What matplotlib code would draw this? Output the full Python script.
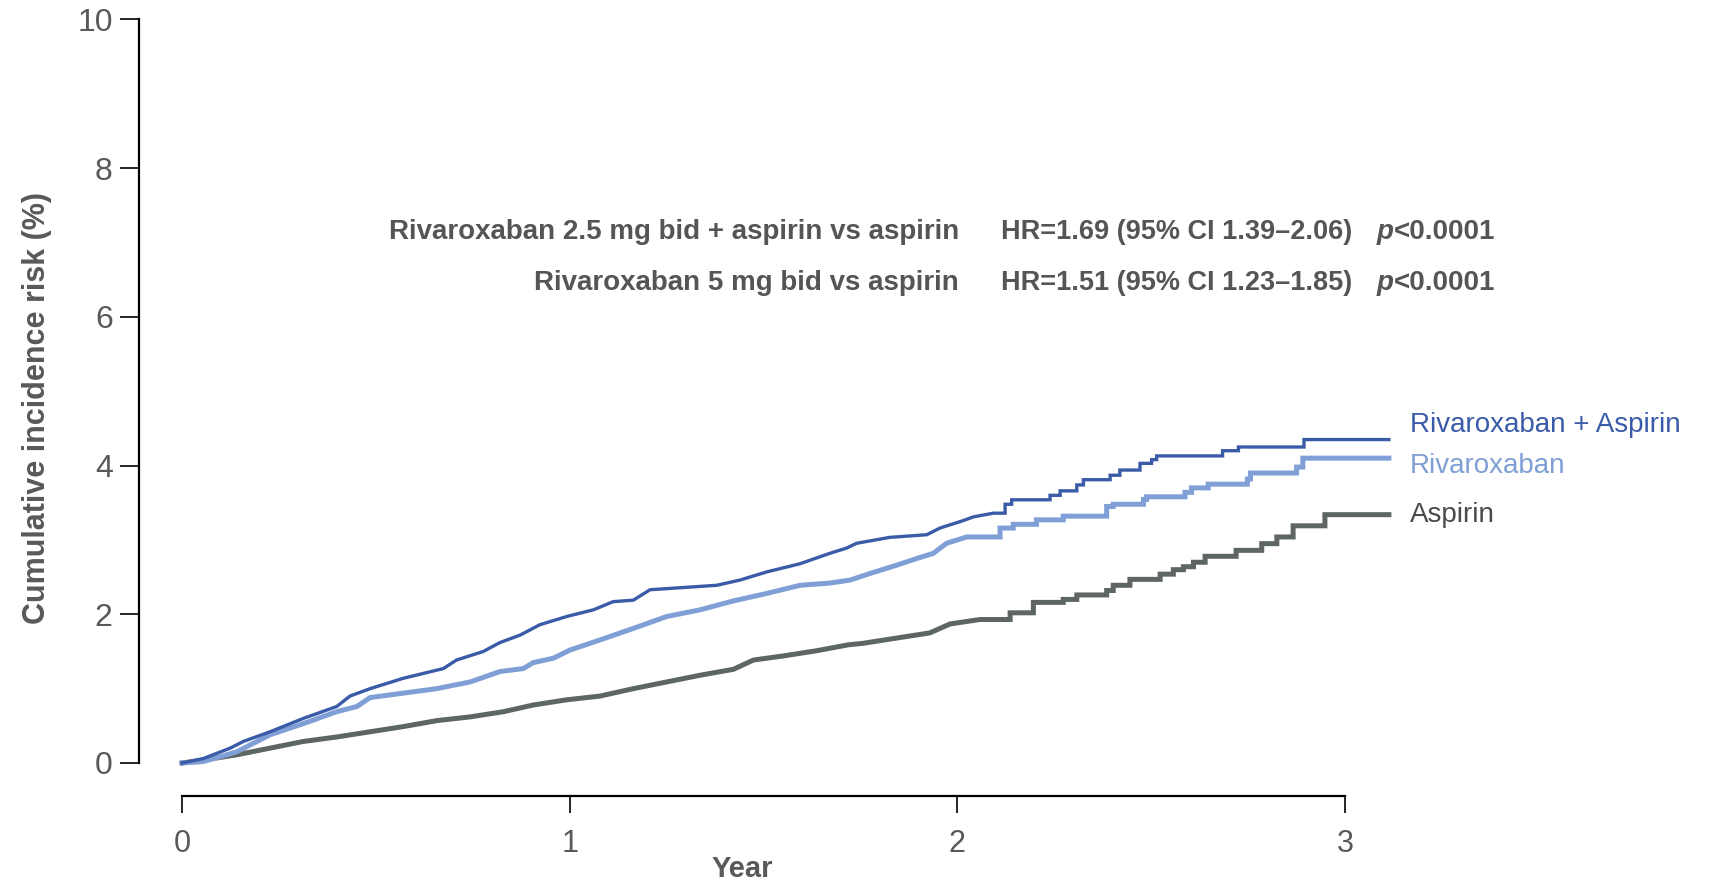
import matplotlib
matplotlib.use("Agg")
import matplotlib.pyplot as plt
from matplotlib import font_manager

# values (years, cumulative incidence %)
rivasp_t = [0, 0.055, 0.124, 0.158, 0.227, 0.313, 0.399, 0.433, 0.485, 0.571,
            0.674, 0.708, 0.777, 0.820, 0.872, 0.923, 0.992, 1.061, 1.112, 1.164,
            1.207, 1.293, 1.379, 1.439, 1.508, 1.594, 1.671, 1.714, 1.740, 1.826,
            1.921, 1.955, 2.015, 2.041, 2.093, 2.123, 2.140, 2.239, 2.265, 2.308,
            2.325, 2.394, 2.419, 2.471, 2.501, 2.514, 2.684, 2.725, 2.894, 3.113]
rivasp_v = [0, 0.06, 0.20, 0.29, 0.42, 0.60, 0.76, 0.90, 1.00, 1.14,
            1.27, 1.385, 1.50, 1.62, 1.72, 1.86, 1.97, 2.06, 2.17, 2.19,
            2.33, 2.36, 2.39, 2.46, 2.57, 2.68, 2.82, 2.89, 2.955, 3.035,
            3.07, 3.16, 3.26, 3.31, 3.36, 3.48, 3.54, 3.60, 3.66, 3.74,
            3.81, 3.87, 3.94, 4.03, 4.08, 4.13, 4.20, 4.25, 4.35, 4.35]

riva_t = [0, 0.055, 0.141, 0.227, 0.313, 0.399, 0.451, 0.485, 0.571, 0.657,
          0.743, 0.820, 0.880, 0.906, 0.958, 1.001, 1.078, 1.164, 1.250, 1.336,
          1.422, 1.508, 1.594, 1.671, 1.723, 1.775, 1.843, 1.895, 1.938, 1.972,
          2.024, 2.110, 2.144, 2.204, 2.273, 2.385, 2.402, 2.480, 2.488, 2.587,
          2.604, 2.647, 2.748, 2.756, 2.875, 2.891, 3.113]
riva_v = [0, 0.02, 0.15, 0.38, 0.53, 0.69, 0.76, 0.88, 0.94, 1.00,
          1.09, 1.23, 1.27, 1.35, 1.41, 1.52, 1.655, 1.81, 1.97, 2.06,
          2.18, 2.28, 2.39, 2.42, 2.46, 2.55, 2.66, 2.75, 2.82, 2.955,
          3.04, 3.16, 3.21, 3.27, 3.32, 3.45, 3.48, 3.545, 3.58, 3.64,
          3.70, 3.75, 3.82, 3.90, 3.98, 4.10, 4.10]

asp_t = [0, 0.055, 0.141, 0.227, 0.313, 0.399, 0.485, 0.571, 0.657, 0.743,
         0.829, 0.906, 0.992, 1.078, 1.164, 1.250, 1.336, 1.422, 1.474, 1.551,
         1.637, 1.719, 1.757, 1.843, 1.929, 1.981, 2.058, 2.136, 2.196, 2.273,
         2.308, 2.385, 2.402, 2.445, 2.523, 2.557, 2.583, 2.609, 2.639, 2.719,
         2.785, 2.824, 2.866, 2.948, 3.113]
asp_v = [0, 0.04, 0.11, 0.20, 0.29, 0.35, 0.42, 0.49, 0.57, 0.62,
         0.69, 0.78, 0.85, 0.90, 1.00, 1.09, 1.18, 1.26, 1.385, 1.44,
         1.51, 1.59, 1.61, 1.68, 1.75, 1.87, 1.93, 2.02, 2.16, 2.20,
         2.26, 2.32, 2.39, 2.47, 2.54, 2.60, 2.64, 2.70, 2.78, 2.86,
         2.95, 3.04, 3.19, 3.34, 3.34]

series_names = ["Rivaroxaban + Aspirin", "Rivaroxaban", "Aspirin"]
label_y = [4.55, 3.99, 3.33]

comparisons = ["Rivaroxaban 2.5 mg bid + aspirin vs aspirin",
               "Rivaroxaban 5 mg bid vs aspirin"]
hr_texts = ["HR=1.69 (95% CI 1.39\u20132.06)",
            "HR=1.51 (95% CI 1.23\u20131.85)"]
p_texts = ["<0.0001", "<0.0001"]

x_ticks = [0, 1, 2, 3]
y_ticks = [0, 2, 4, 6, 8, 10]

# before this year the readings are samples along a dense staircase (drawn as a
# line); after it they are the visible individual steps
STEP_FROM = 2.1


def km_path(t, v):
    xs, ys = [], []
    for i in range(len(t)):
        if i > 0 and t[i] >= STEP_FROM:
            xs.append(t[i])
            ys.append(v[i - 1])
        xs.append(t[i])
        ys.append(v[i])
    return xs, ys


# narrow font if available
names = {f.name for f in font_manager.fontManager.ttflist}
narrow = "Liberation Sans"
for cand in ["Liberation Sans Narrow", "DejaVu Sans Condensed"]:
    if cand in names:
        narrow = cand
        break
plt.rcParams['font.family'] = ['Liberation Sans', 'DejaVu Sans']

dark_blue = '#3a5ba8'
light_blue = '#7f9fd6'
grey_line = '#5e6661'
text_grey = '#555555'

fig = plt.figure(figsize=(17.34, 8.89), dpi=100)
ax = fig.add_axes([0.0802, 0.1046, 0.6955, 0.8735])
ax.set_xlim(-0.111, 3.0)
ax.set_ylim(-0.444, 10.0)

for t, v, c, lw in [(asp_t, asp_v, grey_line, 3.6),
                    (riva_t, riva_v, light_blue, 3.6),
                    (rivasp_t, rivasp_v, dark_blue, 2.4)]:
    px, py = km_path(t, v)
    ax.plot(px, py, color=c, lw=lw, clip_on=False, solid_joinstyle='miter')

for name, yy, c in zip(series_names, label_y, [dark_blue, light_blue, '#4a4a4a']):
    ax.text(3.167, yy, name, color=c, fontsize=20, ha='left', va='center', clip_on=False)

for i, yy in enumerate([7.14, 6.455]):
    ax.text(2.004, yy, comparisons[i], family=narrow, weight='bold', fontsize=20,
            color=text_grey, ha='right', va='center')
    ax.text(2.112, yy, hr_texts[i], family=narrow, weight='bold', fontsize=19.5,
            color=text_grey, ha='left', va='center')
    tp = ax.text(3.082, yy, "p", family=narrow, weight='bold', style='italic', fontsize=20,
                 color=text_grey, ha='left', va='center', clip_on=False)
    ax.annotate(p_texts[i], xy=(1, 0), xycoords=tp, family=narrow, weight='bold',
                fontsize=20, color=text_grey, ha='left', va='bottom', annotation_clip=False)

for s in ['top', 'right']:
    ax.spines[s].set_visible(False)
ax.spines['left'].set_bounds(0, 10)
ax.spines['bottom'].set_bounds(0, 3)
for s in ['left', 'bottom']:
    ax.spines[s].set_linewidth(1.6)
    ax.spines[s].set_color('black')

ax.set_yticks(y_ticks)
ax.set_yticklabels([str(v) for v in y_ticks])
ax.set_xticks(x_ticks)
ax.set_xticklabels([str(v) for v in x_ticks], family=narrow)
ax.tick_params(axis='y', length=14, width=1.2, pad=5, labelsize=23, labelcolor='#595959')
ax.tick_params(axis='x', length=12, width=1.2, pad=12, labelsize=22, labelcolor='#595959')

ax.set_ylabel("Cumulative incidence risk (%)", family=narrow, weight='bold', fontsize=22,
              color='#595959', labelpad=18)
ax.set_xlabel("Year", family=narrow, weight='bold', fontsize=21, color='#595959', labelpad=-3)

fig.savefig("out.png", dpi=100)
